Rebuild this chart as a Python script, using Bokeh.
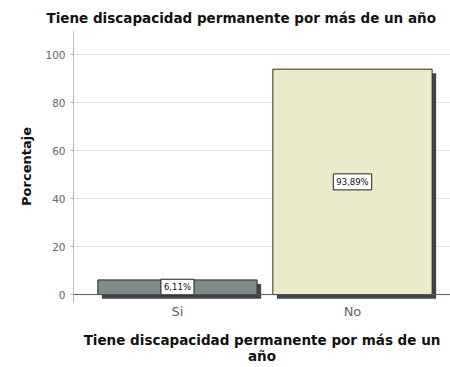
from bokeh.plotting import figure
from bokeh.models import ColumnDataSource, Range1d, FixedTicker, Span
from bokeh.core.properties import value
from bokeh.transform import dodge
from bokeh.embed import file_html
from bokeh.resources import INLINE

categories = ["Si", "No"]
percent = [6.11, 93.89]
labels = ["6,11%", "93,89%"]
colors = ["#7e8b8b", "#ecebc9"]
y_ticks = [0, 20, 40, 60, 80, 100]

xpos = [i + 1 for i in range(len(categories))]
src = ColumnDataSource(dict(x=xpos, top=percent, label=labels, color=colors,
                            ly=[v / 2 for v in percent]))

FONT = "DejaVu Sans"
p = figure(width=450, height=367, output_backend="svg", toolbar_location=None,
           x_range=Range1d(0.406, 2.56), y_range=Range1d(-3.3, 110),
           min_border_left=73, min_border_right=0, min_border_top=30, min_border_bottom=64)
p.outline_line_color = None
p.background_fill_color = "white"

p.title.text = "Tiene discapacidad permanente por más de un año"
p.title.align = "left"
p.title.offset = -27
p.title.standoff = 10
p.title.text_font = FONT
p.title.text_font_size = "13.5px"
p.title.text_color = "#111111"

# shadow
p.vbar(x=dodge("x", 0.023, range=p.x_range), top=dodge("top", -1.7, range=p.y_range),
       bottom=-1.7, width=0.91, source=src, fill_color="#3b4747", line_color=None)
p.vbar(x="x", top="top", bottom=0, width=0.91, source=src, fill_color="color",
       line_color="#2a2a2a", line_width=1)

p.add_layout(Span(location=0, dimension="width", line_color="#555555", line_width=1))

# value labels
p.text(x="x", y="ly", text="label", source=src, text_align="center",
       text_baseline="middle", text_font=value(FONT), text_font_size="8.5px",
       text_color="#111111", background_fill_color="white",
       border_line_color="#222222", border_line_width=1, padding=3)

p.xgrid.grid_line_color = None
p.ygrid.grid_line_color = "#e3e3e3"
p.ygrid.ticker = FixedTicker(ticks=y_ticks)

ya = p.yaxis[0]
ya.ticker = FixedTicker(ticks=y_ticks)
ya.axis_label = "Porcentaje"
ya.axis_label_text_font = FONT
ya.axis_label_text_font_style = "bold"
ya.axis_label_text_font_size = "13px"
ya.axis_label_text_color = "#111111"
ya.axis_label_standoff = 8
ya.major_label_text_font = FONT
ya.major_label_text_font_size = "10.5px"
ya.major_label_text_color = "#666666"
ya.axis_line_color = "#bbbbbb"
ya.major_tick_line_color = "#aaaaaa"
ya.major_tick_out = 3
ya.major_tick_in = 0
ya.minor_tick_line_color = None

xa = p.xaxis[0]
xa.ticker = FixedTicker(ticks=xpos)
xa.major_label_overrides = {x: c for x, c in zip(xpos, categories)}
xa.major_label_text_font = FONT
xa.major_label_text_font_size = "13px"
xa.major_label_text_color = "#666666"
xa.axis_line_color = None
xa.major_tick_line_color = None
xa.minor_tick_line_color = None
xa.major_label_standoff = -5
xa.axis_label = "Tiene discapacidad permanente por más de un\naño"
xa.axis_label_text_font = FONT
xa.axis_label_text_font_style = "bold"
xa.axis_label_text_font_size = "13.5px"
xa.axis_label_text_line_height = 1.05
xa.axis_label_text_color = "#111111"
xa.axis_label_standoff = 10

open("out.html", "w").write(file_html(p, INLINE))
